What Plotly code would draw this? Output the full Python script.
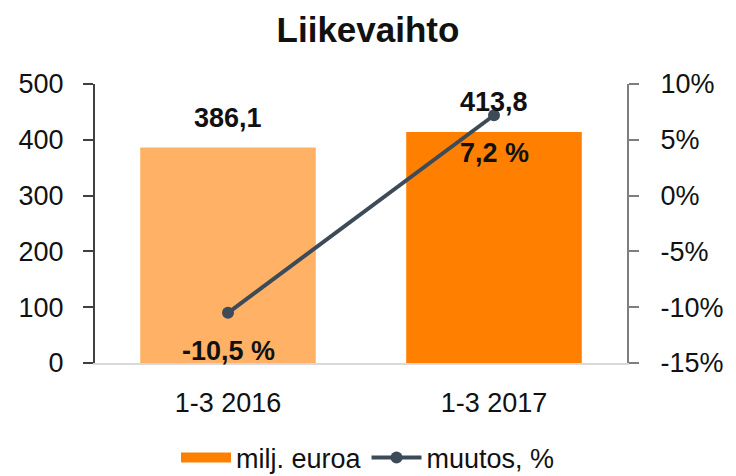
import plotly.graph_objects as go

categories = ["1-3 2016", "1-3 2017"]
revenue = [386.1, 413.8]          # milj. euroa
change_pct = [-10.5, 7.2]         # muutos, %
bar_colors = ["#FFB266", "#FF8000"]
left_ticks = [0, 100, 200, 300, 400, 500]
right_ticks = [-15, -10, -5, 0, 5, 10]
right_tick_labels = ["-15%", "-10%", "-5%", "0%", "5%", "10%"]

FONT = "Liberation Sans, Arial, sans-serif"
LINE_COLOR = "#3D4B58"
FS = 27

def fi(v, suffix=""):
    return f"{v:.1f}".replace(".", ",") + suffix

fig = go.Figure()

fig.add_trace(go.Bar(
    x=categories, y=revenue, marker_color=bar_colors, marker_line_width=0,
    width=0.66, showlegend=False, hoverinfo="skip"))
# legend-only entry for the bar series (wide dark-orange swatch as in the reference)
fig.add_trace(go.Scatter(
    x=[None], y=[None], mode="lines", line=dict(color="#FF8000", width=15),
    name="milj. euroa"))
fig.add_trace(go.Scatter(
    x=categories, y=change_pct, yaxis="y2", mode="lines+markers",
    line=dict(color=LINE_COLOR, width=4), marker=dict(size=12, color=LINE_COLOR),
    name="muutos, %"))

for c, v in zip(categories, revenue):
    fig.add_annotation(x=c, y=v, xref="x", yref="y", text="<b>" + fi(v) + "</b>",
                       showarrow=False, yshift=30,
                       font=dict(family=FONT, size=FS, color="#111"))
for c, v in zip(categories, change_pct):
    fig.add_annotation(x=c, y=v, xref="x", yref="y2", text="<b>" + fi(v, " %") + "</b>",
                       showarrow=False, yshift=-38,
                       font=dict(family=FONT, size=FS, color="#111"))

fig.update_layout(
    width=736, height=476,
    margin=dict(l=95, r=109, t=84, b=113),
    paper_bgcolor="white", plot_bgcolor="white",
    barmode="overlay",
    font=dict(family=FONT, size=FS, color="#111"),
    title=dict(text="<b>Liikevaihto</b>", x=0.5, xanchor="center",
               y=1 - 30 / 476, yanchor="middle", yref="container",
               font=dict(family=FONT, size=35, color="#111")),
    xaxis=dict(type="category", showline=True, linecolor="#D9D9D9", linewidth=2,
               ticks="", showgrid=False, ticklabelstandoff=15,
               tickfont=dict(size=FS)),
    yaxis=dict(range=[0, 500], tickvals=left_ticks, showgrid=False, zeroline=False,
               showline=True, linecolor="#404040", linewidth=2,
               ticks="outside", ticklen=10, tickcolor="#404040", tickwidth=2,
               ticklabelstandoff=14, tickfont=dict(size=FS)),
    yaxis2=dict(range=[-15, 10], tickvals=right_ticks, ticktext=right_tick_labels,
                overlaying="y", side="right", showgrid=False, zeroline=False,
                showline=True, linecolor="#7F7F7F", linewidth=2,
                ticks="outside", ticklen=10, tickcolor="#7F7F7F", tickwidth=2,
                ticklabelstandoff=16, tickfont=dict(size=FS)),
    legend=dict(orientation="h", x=0.5, xanchor="center", xref="container",
                y=1 - 458 / 476, yanchor="middle", yref="container",
                font=dict(family=FONT, size=FS), itemwidth=50, tracegroupgap=0,
                bgcolor="rgba(0,0,0,0)"),
)

fig.write_html("out.html", config={"displayModeBar": False},
               post_script="document.body.style.margin='0';")
